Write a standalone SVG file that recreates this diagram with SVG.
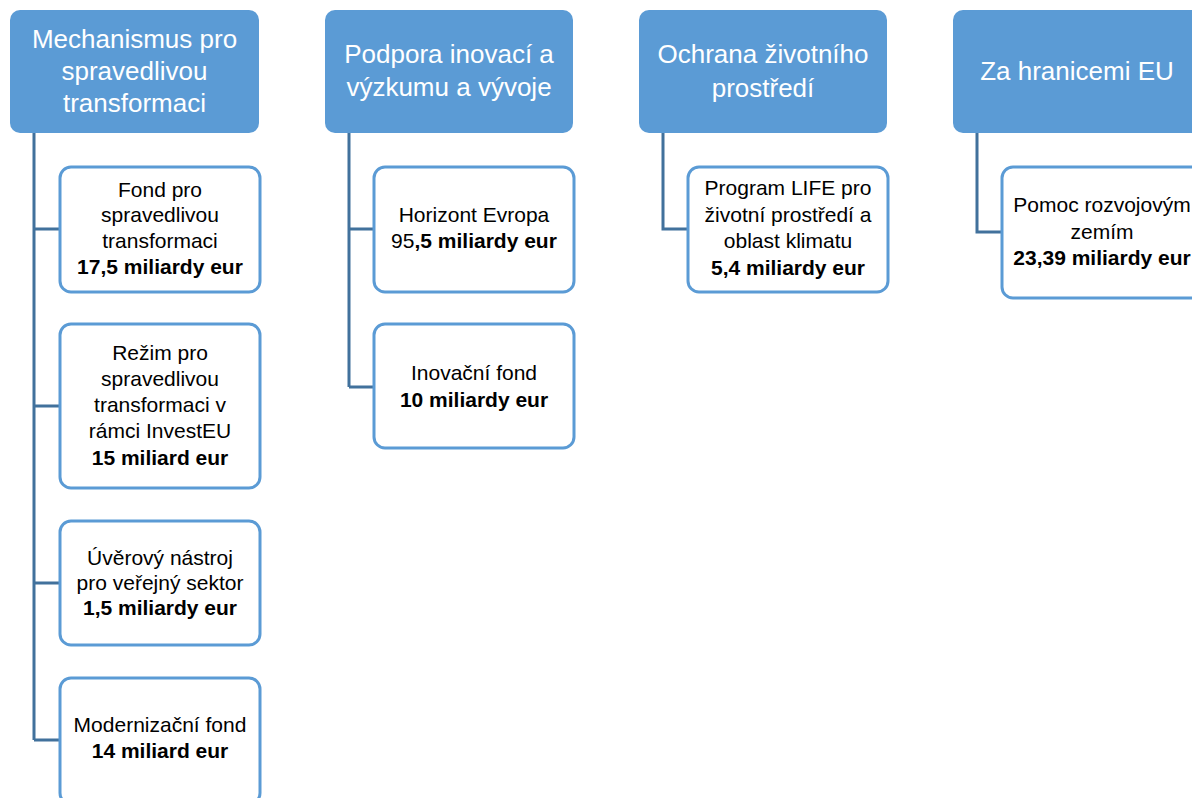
<svg xmlns="http://www.w3.org/2000/svg" width="1192" height="798" viewBox="0 0 1192 798">
<style>
.hdr{fill:#5B9BD5;}
.box{fill:#FFFFFF;stroke:#5B9BD5;stroke-width:3;}
.ht{font-family:"Liberation Sans",Arial,sans-serif;font-size:26px;fill:#FFFFFF;text-anchor:middle;}
.ct{font-family:"Liberation Sans",Arial,sans-serif;font-size:21px;fill:#000000;text-anchor:middle;}
.b{font-weight:bold;}
.con{fill:none;stroke:#41719C;stroke-width:3;}
</style>
<rect width="1192" height="798" fill="#FFFFFF"/>
<g id="connectors">
<path class="con" d="M34,133 V740 M34,229 H59 M34,406 H59 M34,583 H59 M34,740 H59"/>
<path class="con" d="M349,133 V387 M349,229 H373 M349,387 H373"/>
<path class="con" d="M663,133 V229 H687"/>
<path class="con" d="M977,133 V232 H1001"/>
</g>
<g id="h1">
<rect class="hdr" x="10" y="10" width="249" height="123" rx="10"/>
<text class="ht" x="134.5" y="48">Mechanismus pro</text>
<text class="ht" x="134.5" y="80">spravedlivou</text>
<text class="ht" x="134.5" y="112">transformaci</text>
</g>
<g id="h2">
<rect class="hdr" x="325" y="10" width="248" height="123" rx="10"/>
<text class="ht" x="449" y="63">Podpora inovací a</text>
<text class="ht" x="449" y="96">výzkumu a vývoje</text>
</g>
<g id="h3">
<rect class="hdr" x="639" y="10" width="248" height="123" rx="10"/>
<text class="ht" x="763" y="63">Ochrana životního</text>
<text class="ht" x="763" y="97">prostředí</text>
</g>
<g id="h4">
<rect class="hdr" x="953" y="10" width="249" height="123" rx="10"/>
<text class="ht" x="1077" y="80">Za hranicemi EU</text>
</g>
<g id="c1a">
<rect class="box" x="60" y="167" width="200" height="125" rx="11"/>
<text class="ct" x="160" y="197">Fond pro</text>
<text class="ct" x="160" y="222">spravedlivou</text>
<text class="ct" x="160" y="248">transformaci</text>
<text class="ct b" x="160" y="274">17,5 miliardy eur</text>
</g>
<g id="c1b">
<rect class="box" x="60" y="324" width="200" height="164" rx="11"/>
<text class="ct" x="160" y="360">Režim pro</text>
<text class="ct" x="160" y="386">spravedlivou</text>
<text class="ct" x="160" y="412">transformaci v</text>
<text class="ct" x="160" y="438">rámci InvestEU</text>
<text class="ct b" x="160" y="465">15 miliard eur</text>
</g>
<g id="c1c">
<rect class="box" x="60" y="521" width="200" height="124" rx="11"/>
<text class="ct" x="160" y="565">Úvěrový nástroj</text>
<text class="ct" x="160" y="590">pro veřejný sektor</text>
<text class="ct b" x="160" y="615">1,5 miliardy eur</text>
</g>
<g id="c1d">
<rect class="box" x="60" y="678" width="200" height="126" rx="11"/>
<text class="ct" x="160" y="732">Modernizační fond</text>
<text class="ct b" x="160" y="758">14 miliard eur</text>
</g>
<g id="c2a">
<rect class="box" x="374" y="167" width="200" height="125" rx="11"/>
<text class="ct" x="474" y="222">Horizont Evropa</text>
<text class="ct" x="474" y="248">95<tspan class="b">,5 miliardy eur</tspan></text>
</g>
<g id="c2b">
<rect class="box" x="374" y="324" width="200" height="124" rx="11"/>
<text class="ct" x="474" y="380">Inovační fond</text>
<text class="ct b" x="474" y="407">10 miliardy eur</text>
</g>
<g id="c3a">
<rect class="box" x="688" y="167" width="200" height="125" rx="11"/>
<text class="ct" x="788" y="195">Program LIFE pro</text>
<text class="ct" x="788" y="222">životní prostředí a</text>
<text class="ct" x="788" y="248">oblast klimatu</text>
<text class="ct b" x="788" y="275">5,4 miliardy eur</text>
</g>
<g id="c4a">
<rect class="box" x="1002" y="167" width="200" height="131" rx="11"/>
<text class="ct" x="1102" y="212">Pomoc rozvojovým</text>
<text class="ct" x="1102" y="239">zemím</text>
<text class="ct b" x="1102" y="265">23,39 miliardy eur</text>
</g>
</svg>
